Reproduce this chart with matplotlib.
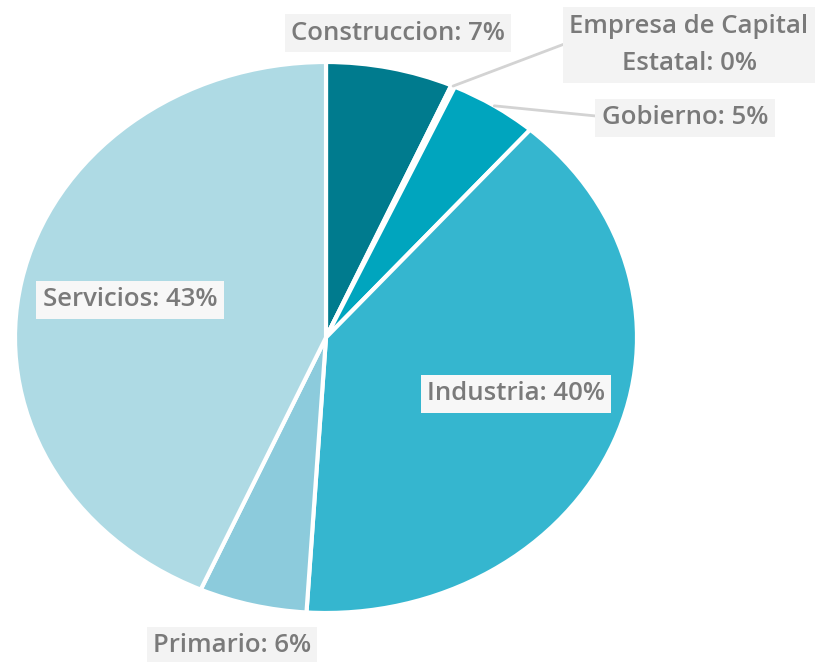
import matplotlib
matplotlib.use("Agg")
import matplotlib.pyplot as plt
import numpy as np

categories = ["Construccion", "Empresa de Capital\nEstatal", "Gobierno", "Industria", "Primario", "Servicios"]
values = [6.6, 0.2, 4.6, 39.6, 5.6, 43.4]
pct_labels = ["7%", "0%", "5%", "40%", "6%", "43%"]
colors = ["#007B8E", "#0091A8", "#00A5BE", "#35B6CF", "#8CCBDC", "#AEDAE4"]

W, H = 836, 662
fig = plt.figure(figsize=(W / 100, H / 100), dpi=100)
cx, cy, rx, ry = 326, 337.5, 311, 275.5
ax = fig.add_axes([(cx - rx) / W, (H - cy - ry) / H, 2 * rx / W, 2 * ry / H])
wedges, _ = ax.pie(values, colors=colors, startangle=90, counterclock=False,
                   wedgeprops=dict(edgecolor="white", linewidth=3))
ax.set_aspect("auto")
ax.set_xlim(-1, 1)
ax.set_ylim(-1, 1)
ax.axis("off")

plt.rcParams["font.family"] = ["Open Sans", "DejaVu Sans"]
txt_color = "#7a7a7a"
box = dict(boxstyle="square,pad=0.25", facecolor="#f3f3f3", edgecolor="none")
box_in = dict(boxstyle="square,pad=0.25", facecolor="#f7f7f7", edgecolor="none")

# label positions in pixels (center)
label_pos = [(398, 33), (689, 45), (685, 118), (516, 394), (232, 646), (130, 300)]
line_end = {1: (567, 43), 2: (596, 116)}
fs = 18.5

def mid_angle(i):
    start = 90 - 360 * sum(values[:i]) / 100
    return np.deg2rad(start - 360 * values[i] / 200)

for i, (cat, p) in enumerate(zip(categories, pct_labels)):
    px, py = label_pos[i]
    text = f"{cat}: {p}"
    fx, fy = px / W, 1 - py / H
    if i in line_end:
        a = mid_angle(i)
        xy = (np.cos(a), np.sin(a))
        tx, ty = line_end[i]
        ax.annotate("", xy=xy, xycoords="data", xytext=(tx / W, 1 - ty / H),
                    textcoords="figure fraction",
                    arrowprops=dict(arrowstyle="-", color="#d3d3d3", lw=2, shrinkA=0, shrinkB=0))
    b = box_in if i in (3, 5) else box
    fig.text(fx, fy, text, ha="center", va="center", fontsize=fs, color=txt_color,
             bbox=b, linespacing=1.65, multialignment="center", fontweight="semibold")

fig.savefig("out.png", dpi=100, facecolor="white")
